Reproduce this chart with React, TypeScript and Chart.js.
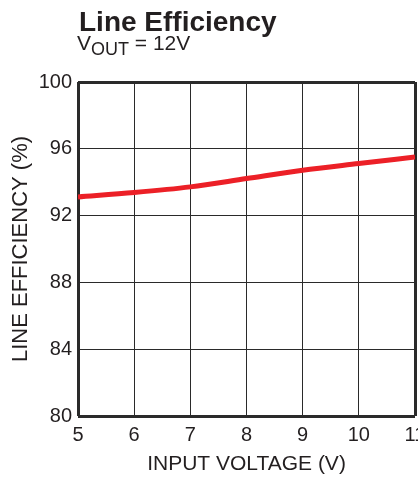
import React, { useEffect, useRef } from "react";
import { Chart, registerables } from "chart.js";

Chart.register(...registerables);

const inputVoltage = [5, 6, 7, 8, 9, 10, 11];
const lineEfficiency = [93.12, 93.38, 93.72, 94.22, 94.72, 95.12, 95.51];
const yTicks = [80, 84, 88, 92, 96, 100];
const titleText = "Line Efficiency";
const subtitleMain = "V";
const subtitleSub = "OUT";
const subtitleRest = " = 12V";
const xTitle = "INPUT VOLTAGE (V)";
const yTitle = "LINE EFFICIENCY (%)";

const FONT = "'Liberation Sans', Arial, Helvetica, sans-serif";
const INK = "#231f20";

const headerPlugin = {
  id: "header",
  afterDraw(chart: any) {
    const ctx = chart.ctx;
    ctx.save();
    ctx.fillStyle = INK;
    ctx.textBaseline = "alphabetic";
    ctx.textAlign = "left";
    ctx.font = `bold 28px ${FONT}`;
    ctx.fillText(titleText, 79, 31);
    let x = 77;
    ctx.font = `21px ${FONT}`;
    ctx.fillText(subtitleMain, x, 50);
    x += ctx.measureText(subtitleMain).width;
    ctx.font = `18px ${FONT}`;
    ctx.fillText(subtitleSub, x, 55);
    x += ctx.measureText(subtitleSub).width;
    ctx.font = `21px ${FONT}`;
    ctx.fillText(subtitleRest, x, 50);
    ctx.restore();
  },
};

export default function App() {
  const ref = useRef<HTMLCanvasElement | null>(null);
  useEffect(() => {
    if (!ref.current) return;
    const chart = new Chart(ref.current, {
      type: "line",
      data: {
        datasets: [
          {
            data: inputVoltage.map((v, i) => ({ x: v, y: lineEfficiency[i] })),
            borderColor: "#ec2027",
            borderWidth: 5,
            pointRadius: 0,
            tension: 0.4,
            cubicInterpolationMode: "monotone",
            fill: false,
          },
        ],
      },
      options: {
        animation: false,
        responsive: false,
        maintainAspectRatio: false,
        layout: { padding: { top: 82, left: 0, right: 3, bottom: 0 } },
        plugins: { legend: { display: false }, tooltip: { enabled: false } },
        scales: {
          x: {
            type: "linear",
            min: 5,
            max: 11,
            afterBuildTicks: (s: any) => {
              s.ticks = inputVoltage.map((v) => ({ value: v }));
            },
            afterFit: (s: any) => {
              s.height = 62;
              s.paddingLeft = 0;
              s.paddingRight = 0;
            },
            grid: {
              color: "#2a2a2a",
              lineWidth: (c: any) =>
                c.tick && (c.tick.value === 5 || c.tick.value === 11) ? 3 : 1,
              drawTicks: false,
            },
            border: { display: false },
            ticks: {
              color: INK,
              font: { family: FONT, size: 20 },
              padding: 7,
              maxRotation: 0,
              autoSkip: false,
            },
            title: {
              display: true,
              text: xTitle,
              color: INK,
              font: { family: FONT, size: 21 },
              padding: { top: 0, bottom: 1 },
            },
          },
          y: {
            type: "linear",
            min: 80,
            max: 100,
            afterBuildTicks: (s: any) => {
              s.ticks = yTicks.map((v) => ({ value: v }));
            },
            afterFit: (s: any) => {
              s.width = 78;
              s.paddingTop = 0;
              s.paddingBottom = 0;
            },
            grid: {
              color: "#2a2a2a",
              lineWidth: (c: any) =>
                c.tick && (c.tick.value === 80 || c.tick.value === 100) ? 3 : 1,
              drawTicks: false,
            },
            border: { display: false },
            ticks: {
              color: INK,
              font: { family: FONT, size: 20 },
              padding: 6,
            },
            title: {
              display: true,
              text: yTitle,
              color: INK,
              font: { family: FONT, size: 22 },
              padding: { top: 8, bottom: 0 },
            },
          },
        },
      },
      plugins: [headerPlugin],
    } as any);
    return () => chart.destroy();
  }, []);
  return (
    <div style={{ position: "absolute", left: 0, top: 0, width: 418, height: 478, background: "#fff" }}>
      <canvas ref={ref} width={418} height={478} style={{ display: "block" }} />
    </div>
  );
}
